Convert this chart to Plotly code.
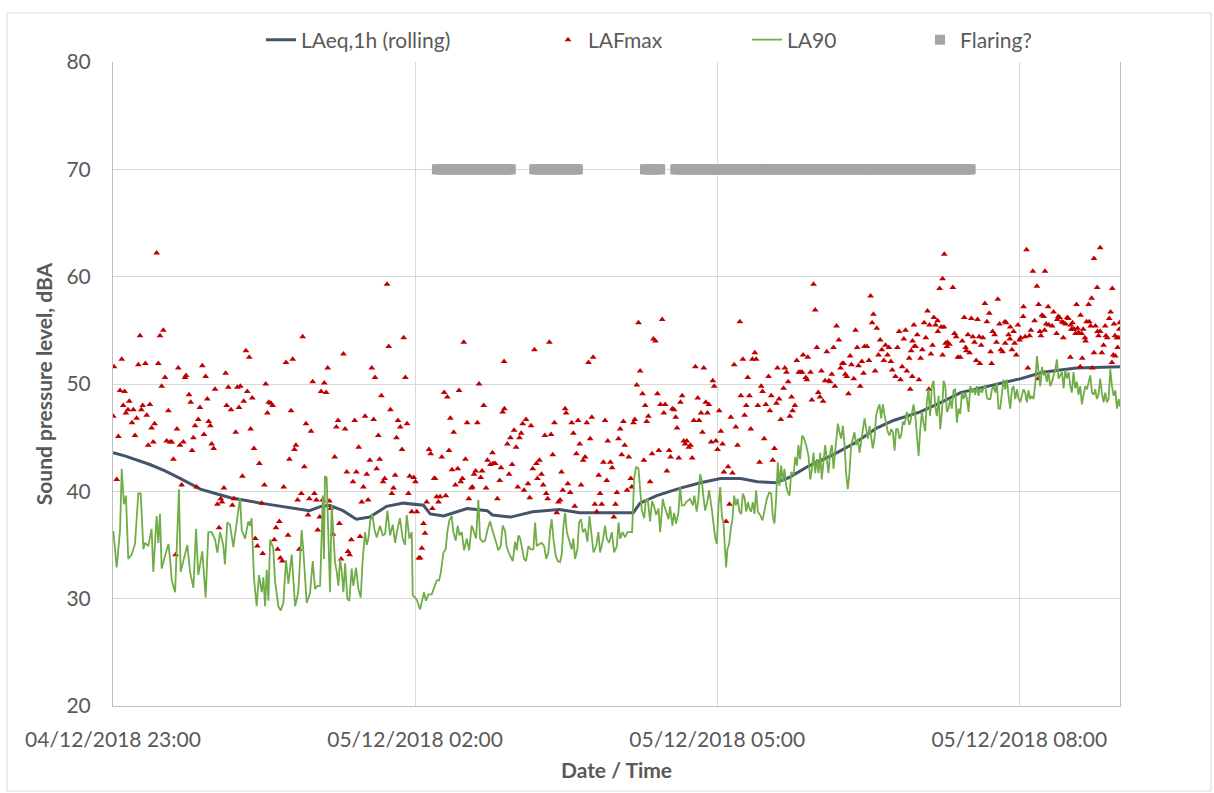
import pandas as pd
import plotly.graph_objects as go

START = pd.Timestamp("2018-12-04 23:00")
END_MIN = 600

tick_times = ["2018-12-04 23:00", "2018-12-05 02:00", "2018-12-05 05:00", "2018-12-05 08:00"]
tick_labels = ["04/12/2018 23:00", "05/12/2018 02:00", "05/12/2018 05:00", "05/12/2018 08:00"]

# LAeq,1h rolling (minutes after 23:00, dBA)
laeq_points = [(0, 43.6), (7, 43.3), (22, 42.5), (31, 41.9), (40, 41.2), (52, 40.2), (61, 39.8), (70, 39.4),
               (88, 38.9), (105, 38.5), (117, 38.2), (124, 38.6), (129, 38.7), (137, 38.2), (145, 37.4),
               (153, 37.6), (163, 38.6), (173, 38.9), (185, 38.7), (189, 37.9), (197, 37.7), (211, 38.4),
               (223, 38.2), (226, 37.8), (237, 37.6), (250, 38.1), (266, 38.3), (278, 38.0), (294, 38.0),
               (310, 38.0), (314, 38.9), (324, 39.6), (338, 40.3), (350, 40.8), (362, 41.2), (374, 41.2),
               (384, 40.9), (395, 40.8), (403, 41.3), (415, 42.4), (429, 43.4), (443, 44.6), (455, 45.9),
               (465, 46.6), (481, 47.4), (495, 48.4), (505, 49.2), (524, 49.9), (541, 50.5), (554, 51.1),
               (574, 51.5), (600, 51.6)]

# LA90 (minutes after 23:00, dBA)
la90_points = [
    (0.2, 36.3), (2.2, 32.9), (4.2, 36.4), (5.2, 42.1), (6.5, 38.8), (7.7, 39.6), (9.1, 33.7), (11.1, 34.1),
    (13.1, 35.1), (15.1, 39.8), (16.5, 39.8), (18.1, 34.6), (19.1, 35.2), (21.0, 34.9), (23.0, 36.5),
    (24.0, 32.5), (26.0, 37.7), (27.0, 35.2), (28.0, 37.9), (29.0, 32.8), (31.0, 34.0), (33.0, 35.1),
    (34.0, 33.7), (35.0, 31.7), (37.0, 30.6), (38.0, 35.0), (39.3, 40.2), (40.3, 32.5), (42.3, 33.7),
    (44.3, 35.0), (45.9, 32.5), (47.9, 31.0), (49.5, 36.5), (50.8, 32.2), (51.8, 33.1), (53.2, 34.4),
    (55.2, 30.1), (56.8, 36.2), (58.8, 36.2), (60.8, 35.5), (62.2, 34.3), (63.8, 36.2), (65.7, 35.0),
    (66.7, 33.2), (68.1, 37.1), (69.7, 36.9), (71.7, 34.8), (73.7, 37.2), (75.7, 39.4), (76.7, 36.4),
    (78.7, 35.6), (80.6, 37.2), (81.6, 36.8), (82.6, 37.5), (84.0, 31.9), (85.6, 29.3), (87.0, 32.2),
    (88.6, 30.6), (89.6, 32.0), (90.6, 29.3), (91.6, 32.7), (92.6, 29.8), (93.6, 35.5), (95.5, 34.7),
    (96.5, 31.7), (98.5, 29.3), (99.9, 28.9), (101.5, 29.6), (103.1, 33.6), (104.5, 31.4), (106.5, 34.1),
    (108.5, 29.3), (110.4, 30.6), (112.4, 36.4), (113.4, 34.5), (115.4, 29.6), (117.4, 30.5), (119.0, 33.5),
    (120.4, 30.9), (121.8, 31.2), (123.4, 31.2), (124.4, 36.2), (125.0, 39.6), (125.7, 33.7), (126.3, 41.4),
    (127.3, 41.3), (128.3, 36.8), (129.3, 30.6), (130.3, 38.7), (131.3, 36.2), (132.3, 33.4), (133.3, 32.5),
    (134.3, 31.2), (135.3, 33.7), (136.3, 32.5), (137.3, 30.6), (138.3, 33.3), (139.6, 30.0), (140.8, 29.8),
    (142.2, 32.8), (143.2, 31.2), (144.8, 32.9), (146.2, 30.9), (147.6, 30.1), (148.8, 33.7), (150.2, 36.2),
    (151.2, 35.0), (152.2, 35.6), (153.2, 37.2), (154.5, 37.9), (155.7, 36.5), (157.1, 35.7), (159.1, 36.8),
    (160.7, 35.9), (162.1, 36.0), (163.5, 38.2), (165.1, 35.9), (166.7, 36.9), (168.1, 35.2), (169.4, 36.4),
    (171.0, 37.5), (172.6, 35.6), (174.0, 35.0), (175.0, 37.8), (176.6, 35.6), (178.0, 36.2), (178.6, 30.3),
    (180.0, 30.1), (181.0, 29.9), (183.0, 29.0), (183.9, 29.6), (185.3, 30.6), (186.5, 29.8), (187.9, 30.4),
    (189.9, 30.4), (191.3, 31.1), (192.9, 31.7), (194.3, 31.7), (195.3, 32.4), (196.9, 34.3), (198.2, 34.6),
    (199.2, 36.2), (200.4, 37.3), (201.8, 37.7), (202.8, 36.2), (204.2, 35.4), (205.4, 36.8), (206.4, 35.9),
    (207.8, 36.2), (209.2, 34.5), (210.8, 35.6), (212.2, 34.5), (213.7, 36.8), (215.1, 36.2), (216.3, 35.6),
    (217.7, 39.2), (218.7, 35.6), (220.3, 35.3), (221.7, 35.4), (223.1, 36.4), (224.7, 37.2), (225.7, 36.6),
    (227.1, 35.8), (228.6, 34.9), (229.6, 34.5), (231.0, 34.9), (232.2, 36.8), (233.6, 36.3), (234.6, 34.8),
    (236.6, 34.0), (238.2, 33.5), (239.6, 35.3), (240.6, 34.5), (241.6, 35.9), (242.6, 35.6), (243.6, 34.8),
    (244.9, 33.7), (246.1, 33.5), (247.5, 34.9), (248.9, 34.6), (250.5, 34.6), (251.5, 37.1), (252.5, 34.9),
    (254.1, 35.1), (255.5, 35.2), (256.9, 34.9), (258.1, 33.7), (259.4, 34.3), (260.4, 36.3), (261.4, 37.4),
    (262.4, 35.6), (263.8, 34.0), (265.0, 33.5), (266.4, 33.4), (267.4, 34.2), (268.4, 36.8), (269.4, 38.0),
    (270.4, 36.2), (272.0, 35.3), (273.3, 34.6), (274.3, 35.6), (275.3, 33.7), (276.7, 34.6), (277.7, 37.1),
    (278.9, 37.4), (279.9, 36.2), (281.3, 36.5), (282.7, 35.3), (283.9, 37.7), (284.9, 36.5), (286.3, 34.3),
    (287.9, 34.9), (289.2, 36.2), (290.2, 34.3), (291.8, 35.4), (293.2, 36.8), (294.2, 35.6), (295.6, 35.2),
    (297.2, 36.2), (298.6, 34.3), (300.2, 34.9), (301.2, 37.1), (302.2, 35.6), (303.7, 36.2), (305.1, 35.7),
    (306.5, 36.2), (308.1, 36.2), (309.3, 36.2), (310.5, 41.2), (311.7, 42.3), (313.1, 42.1), (314.1, 40.3),
    (315.1, 38.2), (316.5, 37.5), (317.4, 39.1), (318.6, 39.3), (320.0, 37.2), (321.2, 39.1), (322.4, 38.6),
    (323.6, 37.8), (325.0, 38.4), (326.0, 36.2), (327.6, 39.3), (328.4, 38.7), (329.6, 38.0), (331.0, 37.4),
    (331.9, 38.6), (333.3, 36.8), (334.3, 38.0), (335.5, 37.0), (336.9, 38.0), (337.9, 40.4), (338.9, 38.7),
    (340.3, 38.7), (341.5, 39.0), (342.9, 39.2), (343.9, 39.3), (345.5, 38.7), (346.4, 39.6), (347.8, 38.1),
    (348.8, 39.3), (349.8, 41.6), (350.8, 41.0), (351.8, 39.5), (352.8, 38.2), (354.2, 39.1), (355.2, 40.1),
    (356.8, 38.3), (357.8, 36.8), (358.8, 35.7), (359.8, 35.1), (360.8, 38.7), (361.8, 40.4), (362.8, 37.7),
    (363.7, 37.1), (364.7, 33.7), (365.3, 32.9), (366.1, 34.6), (367.1, 35.1), (368.1, 36.5), (369.1, 37.4),
    (370.1, 39.6), (371.1, 38.7), (372.1, 39.3), (373.3, 38.1), (374.3, 37.9), (375.3, 39.8), (376.3, 39.4),
    (377.3, 38.1), (378.3, 39.0), (379.2, 38.4), (380.2, 38.1), (381.2, 39.0), (382.2, 37.9), (383.2, 40.1),
    (384.2, 38.1), (385.6, 37.8), (387.0, 37.3), (388.2, 38.4), (389.6, 39.3), (391.0, 39.9), (392.2, 39.8),
    (393.1, 37.7), (394.1, 37.0), (395.1, 39.3), (396.1, 42.7), (397.1, 40.5), (398.1, 42.4), (399.1, 40.9),
    (400.1, 42.1), (401.1, 40.5), (402.1, 39.9), (403.1, 39.6), (404.1, 41.8), (405.5, 41.5), (406.5, 43.2),
    (407.5, 42.4), (408.4, 44.3), (409.4, 43.0), (410.6, 45.2), (411.8, 44.9), (413.0, 44.3), (414.4, 43.3),
    (415.4, 41.1), (416.4, 42.0), (417.4, 43.6), (418.4, 41.7), (419.4, 43.0), (420.4, 41.7), (421.4, 43.6),
    (422.3, 41.1), (423.3, 42.7), (424.3, 44.3), (425.3, 43.0), (426.3, 41.7), (427.3, 43.6), (428.3, 44.3),
    (429.3, 42.1), (430.9, 44.6), (431.9, 46.3), (432.9, 45.5), (433.9, 44.9), (434.9, 46.1), (435.9, 44.3),
    (436.8, 41.7), (437.8, 40.2), (438.8, 41.7), (439.8, 44.3), (440.8, 44.9), (441.8, 45.5), (442.8, 44.3),
    (443.8, 44.9), (444.8, 43.6), (445.8, 44.6), (446.8, 45.8), (447.8, 46.8), (448.8, 45.8), (449.8, 44.9),
    (450.8, 46.1), (451.7, 45.2), (452.7, 44.0), (453.7, 44.9), (454.7, 47.1), (455.7, 47.7), (456.7, 48.1),
    (457.7, 46.8), (458.7, 48.1), (459.7, 47.1), (460.7, 46.2), (461.7, 45.5), (462.7, 45.2), (463.7, 45.8),
    (464.7, 45.5), (465.7, 43.8), (466.6, 45.8), (467.6, 45.8), (468.6, 44.9), (469.6, 45.2), (470.6, 46.5),
    (471.6, 46.2), (473.0, 47.4), (474.4, 46.2), (475.0, 46.4), (476.0, 47.4), (477.0, 48.1), (478.0, 47.1),
    (479.0, 44.9), (480.0, 43.3), (481.0, 45.8), (482.0, 47.4), (482.9, 46.4), (483.9, 45.6), (484.9, 48.3),
    (485.9, 49.5), (486.9, 47.0), (487.9, 49.8), (488.9, 50.3), (489.9, 47.9), (490.9, 47.0), (491.9, 48.9),
    (492.9, 45.8), (493.9, 47.4), (494.9, 50.3), (495.9, 49.8), (496.9, 47.4), (497.8, 47.7), (498.8, 48.6),
    (499.8, 47.7), (500.8, 49.4), (501.8, 49.5), (502.8, 46.4), (503.8, 47.7), (504.8, 47.2), (505.8, 49.2),
    (506.8, 48.6), (507.8, 49.2), (508.8, 48.6), (509.8, 47.4), (510.8, 49.8), (511.8, 49.2), (512.7, 49.6),
    (513.7, 49.0), (514.7, 49.8), (515.7, 48.9), (516.7, 49.6), (517.7, 49.2), (518.7, 49.6), (519.7, 49.9),
    (520.7, 48.7), (521.7, 48.6), (522.7, 48.6), (523.7, 49.5), (524.7, 49.8), (525.7, 49.2), (526.6, 50.1),
    (527.6, 47.7), (528.6, 47.7), (529.6, 48.9), (530.6, 50.4), (531.6, 49.5), (532.6, 50.4), (533.6, 48.9),
    (534.6, 47.7), (535.6, 49.5), (536.6, 49.8), (537.6, 48.6), (538.6, 49.5), (539.6, 48.6), (540.6, 48.3),
    (541.5, 48.9), (542.5, 49.5), (543.5, 49.2), (544.5, 48.3), (545.5, 49.4), (546.5, 48.6), (547.5, 48.9),
    (548.5, 48.6), (549.5, 50.0), (550.5, 52.6), (551.5, 51.1), (552.5, 49.8), (553.5, 51.6), (554.5, 50.8),
    (555.5, 51.1), (556.4, 50.2), (557.4, 51.1), (558.4, 49.8), (559.4, 50.2), (560.4, 50.8), (561.4, 51.3),
    (562.4, 52.3), (563.4, 50.5), (564.4, 50.8), (565.4, 51.1), (566.4, 49.6), (567.4, 51.3), (568.4, 50.5),
    (569.4, 51.1), (570.4, 49.8), (571.3, 49.2), (572.3, 51.1), (573.3, 49.6), (574.3, 50.2), (575.3, 49.0),
    (576.3, 49.8), (577.3, 48.1), (578.3, 49.0), (579.3, 49.8), (580.3, 49.5), (581.3, 50.1), (582.3, 50.8),
    (583.3, 49.2), (584.3, 49.0), (585.3, 49.5), (586.2, 48.6), (587.2, 49.0), (588.2, 50.5), (589.2, 49.2),
    (590.2, 48.3), (591.2, 49.2), (592.2, 48.3), (593.2, 48.6), (594.2, 51.4), (595.2, 49.8), (596.2, 48.9),
    (597.2, 49.4), (598.2, 47.7), (599.2, 48.6), (600.0, 47.9)]

# LAFmax (minutes after 23:00, dBA)
lafmax_points = [
    (26.0, 62.2), (16.1, 54.5), (30.0, 55.0), (28.0, 54.5), (5.2, 52.3), (0.6, 51.6), (15.1, 51.8), (19.3, 51.9),
    (27.0, 51.9), (38.9, 51.5), (53.2, 51.7), (31.0, 50.6), (43.5, 50.8), (42.9, 50.6), (55.2, 50.7), (67.1, 51.0),
    (79.2, 53.1), (81.2, 52.5), (103.1, 52.0), (107.1, 52.3), (113.0, 54.4), (119.0, 50.2), (29.0, 49.8),
    (4.2, 49.4), (6.9, 49.3), (9.7, 48.4), (6.1, 48.0), (8.9, 47.6), (12.1, 47.6), (17.7, 48.0), (22.0, 48.1),
    (16.9, 47.6), (20.1, 47.1), (14.1, 46.8), (11.3, 46.4), (7.7, 47.3), (33.0, 47.5), (45.3, 49.0), (46.3, 48.3),
    (51.8, 47.8), (56.2, 48.6), (60.8, 49.5), (68.7, 49.7), (74.1, 49.7), (75.9, 49.8), (80.0, 49.3), (83.0, 48.7),
    (77.9, 48.4), (75.1, 47.8), (70.3, 47.6), (67.7, 48.0), (91.0, 50.0), (92.8, 48.3), (94.1, 48.2), (95.1, 48.0),
    (92.0, 47.3), (106.1, 47.5), (0.2, 47.0), (3.2, 45.1), (13.1, 45.2), (23.0, 45.9), (24.8, 46.3), (21.0, 44.3),
    (24.0, 44.6), (32.0, 44.7), (34.0, 44.6), (35.0, 44.6), (38.1, 45.8), (39.9, 44.3), (41.9, 44.6), (47.9, 45.0),
    (48.9, 46.1), (50.8, 46.7), (54.2, 45.3), (57.0, 46.5), (58.0, 46.1), (58.8, 44.4), (60.0, 44.0), (47.1, 43.8),
    (36.0, 43.0), (73.1, 45.5), (82.0, 45.8), (84.0, 44.0), (87.2, 42.6), (77.1, 41.4), (90.2, 40.6), (101.7, 40.4),
    (105.1, 43.0), (108.1, 43.9), (109.0, 44.3), (115.0, 46.3), (118.0, 45.6), (114.0, 42.3), (2.2, 41.1),
    (40.9, 40.6), (49.8, 40.4), (66.1, 40.3), (64.2, 39.3), (64.9, 39.0), (62.2, 38.8), (72.1, 39.3), (71.1, 38.7),
    (88.6, 38.9), (112.2, 39.8), (110.0, 39.2), (117.0, 39.3), (120.0, 39.8), (116.2, 37.8), (63.2, 36.6),
    (84.8, 35.6), (86.0, 34.9), (89.2, 34.2), (96.1, 35.5), (97.1, 36.6), (99.1, 37.2), (98.1, 34.6), (99.7, 33.8),
    (100.9, 33.5), (104.3, 35.9), (111.0, 34.6), (37.3, 34.1),
    (163.3, 59.3), (164.3, 53.5), (173.2, 54.3), (209.0, 53.9), (233.0, 52.1), (137.3, 52.8), (127.9, 51.5),
    (154.2, 51.5), (156.1, 50.6), (174.2, 50.6), (125.9, 50.1), (124.0, 49.3), (127.0, 49.2), (159.9, 48.9),
    (165.3, 47.6), (206.2, 49.4), (197.3, 49.2), (199.2, 48.8), (218.1, 50.0), (220.9, 48.0), (232.2, 47.4),
    (233.2, 47.7), (239.0, 45.7), (134.1, 46.6), (133.1, 46.0), (138.3, 45.8), (144.0, 46.6), (150.2, 47.0),
    (155.3, 46.7), (158.1, 45.2), (169.8, 46.6), (171.2, 46.0), (175.2, 46.3), (168.9, 45.0), (172.2, 43.9),
    (146.4, 44.1), (132.1, 43.2), (153.0, 42.9), (158.9, 43.0), (157.1, 42.1), (139.3, 41.8), (145.0, 41.8),
    (143.0, 40.9), (151.2, 41.6), (149.2, 40.4), (161.9, 41.2), (160.9, 40.9), (168.1, 41.5), (167.1, 40.3),
    (166.1, 39.8), (176.8, 41.4), (179.2, 41.3), (180.2, 40.9), (176.0, 39.8), (201.0, 46.8), (203.0, 45.5),
    (211.0, 46.4), (217.1, 46.4), (188.3, 43.9), (189.3, 43.5), (195.9, 43.2), (200.2, 43.8), (210.0, 43.0),
    (202.0, 42.0), (205.4, 42.1), (204.0, 40.6), (207.2, 40.9), (208.2, 41.2), (191.3, 41.2), (191.9, 41.2),
    (214.1, 40.4), (213.5, 40.3), (215.1, 41.6), (216.1, 41.9), (219.1, 41.3), (219.9, 41.9), (222.3, 40.3),
    (223.1, 42.9), (224.9, 42.5), (226.1, 43.6), (227.7, 42.6), (226.5, 42.6), (231.2, 42.2), (230.4, 41.0),
    (236.0, 41.6), (237.8, 42.5), (235.0, 44.4), (236.8, 45.0), (229.0, 39.3), (212.0, 39.3), (198.3, 39.6),
    (194.9, 39.5), (192.9, 39.5), (193.9, 39.0), (190.3, 38.4), (186.9, 39.0), (178.0, 38.1), (181.0, 38.1),
    (185.0, 37.0), (185.9, 36.1), (184.0, 34.7), (183.0, 33.8), (182.2, 33.8), (148.2, 39.0), (152.0, 39.2),
    (121.2, 39.2), (124.9, 39.2), (128.9, 39.1), (129.7, 38.4), (123.2, 37.6), (122.0, 36.4), (131.1, 36.0),
    (134.9, 37.0), (142.0, 35.5), (147.2, 35.8), (140.0, 34.4), (141.0, 34.1), (135.9, 33.7),
    (313.1, 55.7), (327.2, 56.0), (322.0, 54.2), (323.2, 54.0), (251.1, 53.2), (260.0, 53.9), (283.3, 52.0),
    (286.1, 52.5), (347.0, 51.6), (352.0, 51.5), (314.1, 51.2), (312.1, 49.9), (315.5, 49.1), (324.4, 49.1),
    (317.1, 48.0), (326.2, 48.1), (329.0, 48.1), (328.2, 47.3), (333.3, 47.7), (334.3, 47.6), (339.1, 48.9),
    (338.1, 48.3), (335.3, 46.9), (336.1, 45.9), (357.4, 50.3), (358.2, 49.8), (353.2, 48.3), (355.0, 48.1),
    (348.4, 48.7), (350.4, 47.3), (354.2, 47.3), (346.1, 46.6), (349.2, 46.6), (351.2, 45.5), (356.4, 44.6),
    (340.1, 44.7), (341.9, 44.7), (340.9, 44.4), (343.1, 44.1), (344.1, 44.3), (345.1, 43.1), (331.4, 43.8),
    (332.2, 43.2), (337.1, 43.1), (330.0, 41.9), (320.0, 40.9), (325.2, 43.8), (321.2, 43.5), (316.3, 42.9),
    (319.0, 47.0), (318.0, 46.5), (310.9, 46.7), (310.1, 46.4), (304.1, 46.5), (302.2, 45.8), (301.2, 44.9),
    (304.9, 44.3), (303.1, 43.4), (307.3, 43.2), (308.5, 41.2), (306.3, 40.1), (309.1, 40.4), (299.4, 38.8),
    (298.4, 37.6), (300.2, 39.9), (294.2, 41.0), (296.4, 42.7), (297.4, 42.2), (292.2, 42.7), (289.4, 41.5),
    (290.2, 39.8), (291.2, 38.8), (287.1, 38.8), (288.2, 38.1), (293.2, 46.6), (294.8, 44.7), (285.3, 46.9),
    (284.3, 44.9), (282.3, 46.4), (277.1, 46.6), (273.3, 46.4), (274.3, 45.4), (278.1, 44.4), (276.1, 43.5),
    (281.3, 43.2), (280.1, 42.9), (278.9, 40.6), (269.4, 47.7), (270.0, 47.3), (263.0, 46.4), (262.0, 43.4),
    (257.3, 45.2), (261.0, 45.3), (249.1, 46.1), (246.1, 46.7), (244.1, 46.3), (243.2, 45.4), (242.2, 45.0),
    (240.2, 44.1), (254.1, 42.9), (252.3, 42.6), (250.1, 42.1), (252.9, 41.2), (255.3, 41.6), (256.3, 40.6),
    (247.3, 40.7), (244.9, 40.1), (241.2, 40.4), (248.3, 39.4), (258.1, 39.8), (259.0, 39.3), (265.4, 39.0),
    (266.4, 39.2), (267.2, 41.8), (268.0, 40.1), (271.0, 40.7), (272.4, 39.9), (264.4, 38.0), (275.1, 38.6),
    (417.4, 59.3), (418.4, 56.9), (451.4, 58.2), (453.1, 56.5), (452.3, 55.7), (455.1, 55.2), (373.5, 55.8),
    (431.1, 55.4), (442.4, 55.0), (432.5, 54.1), (457.1, 54.1), (458.1, 53.2), (460.3, 53.6), (462.3, 53.4),
    (461.5, 52.7), (459.3, 52.2), (456.1, 52.7), (450.4, 52.2), (449.2, 53.5), (447.8, 53.5), (446.2, 52.1),
    (444.2, 51.7), (443.4, 53.4), (439.2, 52.6), (440.0, 51.8), (435.3, 51.9), (434.5, 51.9), (433.5, 51.5),
    (429.3, 53.4), (425.3, 53.0), (419.4, 53.4), (414.0, 52.5), (411.2, 52.7), (407.4, 52.2), (370.1, 51.8),
    (375.3, 52.3), (381.0, 52.3), (382.4, 52.9), (383.2, 52.3), (378.2, 50.6), (395.9, 51.5), (400.3, 51.5),
    (401.3, 51.1), (402.3, 50.2), (390.6, 50.7), (386.2, 49.8), (387.0, 49.3), (392.2, 48.9), (396.9, 48.6),
    (399.5, 49.6), (404.3, 48.8), (395.3, 48.2), (374.1, 48.9), (379.2, 48.9), (377.3, 48.0), (384.2, 48.0),
    (389.0, 48.1), (391.4, 47.5), (397.9, 46.7), (403.3, 47.0), (404.9, 47.5), (406.3, 48.0), (376.3, 47.1),
    (361.2, 47.5), (368.1, 46.9), (371.1, 46.0), (380.0, 45.8), (362.2, 45.6), (359.2, 44.7), (363.2, 44.4),
    (360.2, 43.9), (372.1, 44.3), (388.0, 44.9), (394.1, 44.0), (385.2, 42.7), (393.1, 42.9), (364.0, 41.8),
    (366.5, 42.3), (369.1, 41.7), (367.3, 38.8), (365.3, 37.2), (408.6, 51.1), (409.6, 51.1), (410.6, 51.1),
    (412.8, 50.6), (413.4, 50.4), (415.6, 51.1), (416.4, 48.5), (420.2, 49.2), (421.2, 48.8), (423.1, 48.4),
    (424.3, 50.3), (426.5, 50.3), (427.3, 50.2), (430.1, 49.8), (428.3, 50.9), (422.1, 51.2), (438.2, 49.1),
    (436.3, 50.9), (437.2, 50.7), (441.4, 50.5), (445.2, 49.8), (447.2, 51.0), (454.1, 51.2), (463.5, 52.1),
    (464.3, 51.3), (466.2, 50.7), (469.2, 50.4), (470.2, 51.6), (473.0, 51.2), (474.4, 52.4), (467.4, 53.4),
    (468.4, 54.9), (472.2, 55.0), (471.2, 54.2), (475.6, 53.1), (476.4, 54.0), (477.2, 55.5), (477.4, 53.5),
    (495.3, 62.1), (494.3, 59.8), (492.5, 58.9), (500.4, 59.0), (544.3, 62.5), (548.1, 60.5), (555.3, 60.5),
    (550.5, 59.1), (588.2, 62.7), (584.5, 61.7), (586.4, 59.0), (595.4, 58.9), (583.1, 58.0), (527.2, 57.9),
    (519.5, 57.5), (542.5, 57.2), (551.5, 57.4), (557.2, 57.2), (560.4, 56.7), (563.2, 56.3), (553.5, 56.4),
    (554.5, 56.3), (576.5, 56.4), (574.1, 57.4), (581.3, 57.4), (485.3, 56.8), (489.1, 56.2), (491.3, 55.9),
    (522.1, 56.6), (507.2, 56.2), (511.4, 56.1), (515.1, 56.0), (483.3, 55.7), (486.5, 55.5), (490.1, 55.5),
    (493.5, 55.3), (495.1, 55.3), (520.7, 55.8), (528.2, 55.6), (531.4, 55.8), (532.2, 55.7), (534.6, 55.3),
    (539.2, 55.5), (542.3, 56.3), (549.1, 55.9), (552.3, 54.9), (555.1, 55.0), (557.6, 55.5), (559.6, 55.4),
    (556.0, 55.6), (562.6, 56.0), (564.0, 56.2), (565.4, 55.8), (566.4, 55.7), (567.6, 55.6), (568.6, 56.2),
    (569.2, 56.1), (570.6, 55.5), (571.0, 55.1), (572.1, 55.1), (571.7, 55.7), (573.5, 54.7), (574.7, 55.2),
    (575.3, 54.8), (577.1, 54.7), (578.1, 55.1), (579.1, 54.3), (580.1, 55.8), (581.7, 55.8), (582.5, 55.4),
    (585.4, 55.4), (586.6, 54.9), (588.2, 54.9), (591.2, 55.4), (591.6, 54.5), (593.6, 56.1), (594.4, 56.7),
    (596.4, 55.6), (597.0, 54.5), (599.6, 55.1), (599.8, 55.7), (598.2, 54.3), (599.2, 54.3), (479.2, 54.6),
    (484.3, 54.3), (488.3, 53.6), (491.5, 54.9), (497.2, 53.9), (496.1, 53.8), (496.9, 53.5), (498.4, 53.7),
    (501.4, 54.7), (502.4, 54.4), (506.0, 54.0), (508.0, 53.4), (509.4, 54.6), (512.3, 54.4), (513.3, 53.9),
    (516.1, 54.4), (518.3, 54.3), (517.3, 53.6), (525.3, 54.6), (526.4, 53.9), (533.6, 54.6), (536.6, 54.9),
    (534.4, 54.2), (530.0, 53.0), (529.0, 53.2), (531.6, 53.8), (535.6, 53.2), (537.2, 53.8), (538.2, 52.7),
    (540.2, 54.1), (540.8, 54.3), (543.5, 54.4), (546.1, 54.5), (546.9, 55.0), (552.9, 54.5), (562.2, 54.7),
    (566.2, 54.3), (572.7, 55.1), (579.5, 54.0), (584.5, 52.9), (587.2, 54.5), (590.2, 53.6), (592.4, 54.3),
    (596.0, 52.7), (589.2, 52.9), (597.2, 52.6), (598.6, 53.4), (478.2, 53.5), (482.2, 53.2), (481.2, 52.4),
    (487.3, 52.8), (494.3, 52.7), (503.4, 52.5), (504.8, 52.5), (508.4, 53.1), (510.4, 52.9), (514.3, 52.2),
    (516.5, 51.9), (523.5, 51.9), (480.2, 50.4), (545.1, 51.5), (551.3, 50.5), (570.4, 52.5), (576.3, 51.6),
    (577.5, 52.4), (583.5, 51.5), (595.2, 52.0), (476.2, 50.7), (475.0, 49.5), (486.1, 49.5), (522.9, 53.0),
    (524.1, 54.9)]

# Flaring? flag: periods (minutes after 23:00) plotted at a constant level
flaring_start = [193, 251, 317, 335]
flaring_end = [237, 277, 326, 511]
flaring_level = 70


def to_time(minutes):
    return [START + pd.Timedelta(minutes=float(m)) for m in minutes]


laeq_min, laeq_db = zip(*laeq_points)
la90_min, la90_db = zip(*la90_points)
lafmax_min, lafmax_db = zip(*lafmax_points)
flaring_min = [m for s, e in zip(flaring_start, flaring_end) for m in range(s, e + 1)]

FONT = "Lato, 'Open Sans', 'DejaVu Sans', sans-serif"
TXT = "#595959"

fig = go.Figure()
fig.add_trace(go.Scatter(x=to_time(laeq_min), y=list(laeq_db), mode="lines", name="LAeq,1h (rolling)",
                         line=dict(color="#44546A", width=3), legend="legend", showlegend=True))
fig.add_trace(go.Scatter(x=to_time(lafmax_min), y=list(lafmax_db), mode="markers", name="LAFmax",
                         marker=dict(symbol="triangle-up", size=6, color="#C00000"), legend="legend2",
                         showlegend=True))
fig.add_trace(go.Scatter(x=to_time(la90_min), y=list(la90_db), mode="lines", name="LA90",
                         line=dict(color="#70AD47", width=1.8), legend="legend3", showlegend=True))
fig.add_trace(go.Scatter(x=to_time(flaring_min), y=[flaring_level] * len(flaring_min), mode="markers",
                         name="Flaring?", marker=dict(symbol="square", size=10, color="#A5A5A5"),
                         legend="legend4", showlegend=True))

L, R, T, B = 113, 94, 62, 87
W, H = 1214, 793
pw, ph = W - L - R, H - T - B


def px_x(px):
    return (px - L) / pw


def px_y(py):
    return (H - B - py) / ph


leg_common = dict(orientation="h", yanchor="middle", y=px_y(40), xanchor="left", visible=True,
                  font=dict(family=FONT, size=21, color=TXT), bgcolor="rgba(0,0,0,0)")

fig.update_layout(
    width=W, height=H,
    showlegend=True,
    margin=dict(l=L, r=R, t=T, b=B, autoexpand=False),
    paper_bgcolor="white", plot_bgcolor="white",
    font=dict(family=FONT, color=TXT, size=21),
    legend=dict(leg_common, x=px_x(261)),
    legend2=dict(leg_common, x=px_x(548)),
    legend3=dict(leg_common, x=px_x(747)),
    legend4=dict(leg_common, x=px_x(920)),
    xaxis=dict(
        type="date",
        range=[START, START + pd.Timedelta(minutes=END_MIN)],
        tickmode="array", tickvals=[pd.Timestamp(t) for t in tick_times], ticktext=tick_labels,
        showgrid=True, gridcolor="#D9D9D9", gridwidth=1,
        showline=True, linecolor="#BFBFBF", linewidth=1,
        ticks="", ticklabelstandoff=15,
        tickfont=dict(family=FONT, size=21, color=TXT),
        title=dict(text="<b>Date / Time</b>", font=dict(family=FONT, size=21, color=TXT), standoff=13),
        zeroline=False,
    ),
    yaxis=dict(
        range=[20, 80], dtick=10, tick0=20,
        showgrid=True, gridcolor="#D9D9D9", gridwidth=1,
        showline=True, linecolor="#BFBFBF", linewidth=1, mirror=True,
        ticks="", ticklabelstandoff=17,
        tickfont=dict(family=FONT, size=21, color=TXT),
        title=dict(text="<b>Sound pressure level, dBA</b>", font=dict(family=FONT, size=21, color=TXT), standoff=8),
        zeroline=False,
    ),
    shapes=[dict(type="rect", xref="paper", yref="paper",
                 x0=px_x(7), x1=px_x(1211), y0=px_y(791), y1=px_y(13),
                 line=dict(color="#D9D9D9", width=1), fillcolor="rgba(0,0,0,0)", layer="below")],
)

fig.write_html("out.html", config={"displayModeBar": False},
               post_script="document.body.style.margin='0px';document.body.style.overflow='hidden';")
